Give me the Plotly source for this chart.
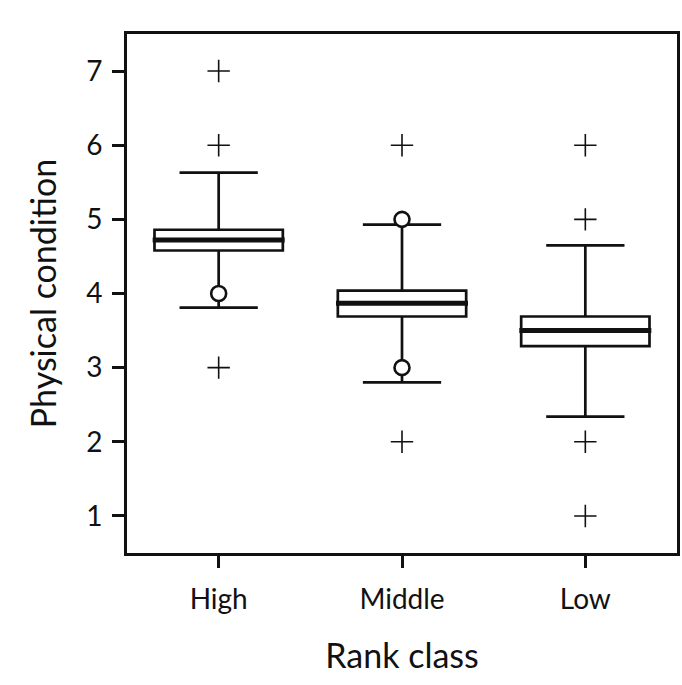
import plotly.graph_objects as go

# Summary statistics per rank class
categories = ["High", "Middle", "Low"]
q1 = [4.58, 3.69, 3.29]
median = [4.72, 3.87, 3.50]
q3 = [4.86, 4.04, 3.69]
lower_whisker = [3.81, 2.80, 2.34]
upper_whisker = [5.63, 4.93, 4.65]

# Mild outliers (open circles) and extreme outliers (crosses)
mild_outliers = {"High": [4], "Middle": [5, 3], "Low": []}
extreme_outliers = {"High": [7, 6, 3], "Middle": [6, 2], "Low": [6, 5, 2, 1]}

y_ticks = [1, 2, 3, 4, 5, 6, 7]

FONT = "Lato"
BOX_WIDTH = 0.7
positions = list(range(len(categories)))

fig = go.Figure()

fig.add_trace(go.Box(
    x=positions,
    q1=q1,
    median=median,
    q3=q3,
    lowerfence=lower_whisker,
    upperfence=upper_whisker,
    width=BOX_WIDTH,
    whiskerwidth=0.61,
    boxpoints=False,
    fillcolor="white",
    line=dict(color="#111111", width=2.7),
    showlegend=False,
    hoverinfo="skip",
))

# Thick median bars
for pos, med in zip(positions, median):
    fig.add_trace(go.Scatter(
        x=[pos - BOX_WIDTH / 2 - 0.01, pos + BOX_WIDTH / 2 + 0.01],
        y=[med, med],
        mode="lines",
        line=dict(color="#111111", width=5),
        showlegend=False,
        hoverinfo="skip",
    ))

# Outlier markers
cx, cy, ox, oy = [], [], [], []
for pos, cat in zip(positions, categories):
    for v in extreme_outliers[cat]:
        cx.append(pos)
        cy.append(v)
    for v in mild_outliers[cat]:
        ox.append(pos)
        oy.append(v)

fig.add_trace(go.Scatter(
    x=cx, y=cy, mode="markers",
    marker=dict(symbol="cross-thin", size=16, line=dict(color="#111111", width=1.6)),
    showlegend=False, hoverinfo="skip",
))
fig.add_trace(go.Scatter(
    x=ox, y=oy, mode="markers",
    marker=dict(symbol="circle", size=15, color="white", line=dict(color="#111111", width=2.6)),
    showlegend=False, hoverinfo="skip",
))

fig.update_layout(
    width=682,
    height=685,
    margin=dict(l=127, r=2, t=34, b=132),
    paper_bgcolor="white",
    plot_bgcolor="white",
    font=dict(family=FONT, color="#111111", size=28),
)

axis_style = dict(
    ticks="outside",
    ticklen=12,
    tickwidth=2.5,
    tickcolor="#111111",
    showline=True,
    linewidth=2.6,
    linecolor="#111111",
    mirror=True,
    showgrid=False,
    zeroline=False,
    tickfont=dict(size=28),
)

fig.update_xaxes(
    range=[-0.5, 2.5],
    tickmode="array",
    tickvals=positions,
    ticktext=categories,
    ticklabelstandoff=8,
    title=dict(text="Rank class", font=dict(size=34), standoff=30),
    **axis_style,
)
fig.update_yaxes(
    range=[0.5, 7.5],
    tickmode="array",
    tickvals=y_ticks,
    ticktext=[str(t) for t in y_ticks],
    ticklabelstandoff=4,
    title=dict(text="Physical condition", font=dict(size=34), standoff=20),
    **axis_style,
)

fig.write_html("out.html")
